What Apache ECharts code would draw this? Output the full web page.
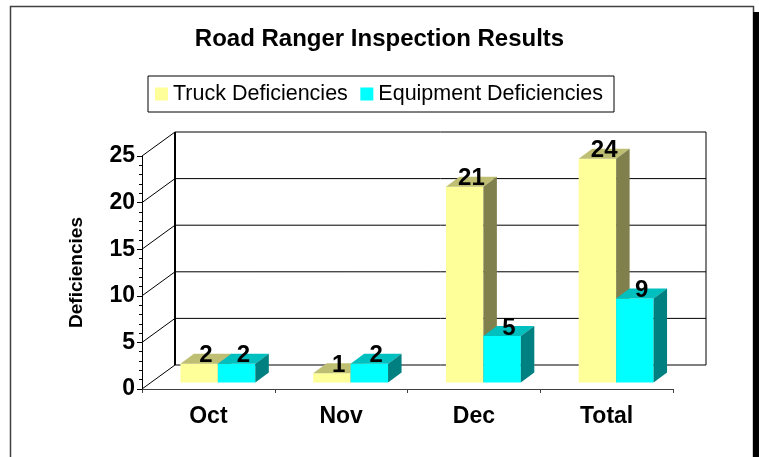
<!DOCTYPE html>
<html>
<head>
<meta charset="utf-8">
<style>
  html, body { margin: 0; padding: 0; background: #fff; }
  #main { width: 759px; height: 457px; }
</style>
<script src="https://cdn.jsdelivr.net/npm/echarts@6/dist/echarts.min.js"></script>
</head>
<body>
<div id="main"></div>
<script>
// chart data
var categories = ['Oct', 'Nov', 'Dec', 'Total'];
var truckValues = [2, 1, 21, 24];
var equipmentValues = [2, 2, 5, 9];
var gridValues = [0, 5, 10, 15, 20, 25];

// 3d look (pixels)
var DEPTH_X = 33, DEPTH_Y = -24;      // front axis plane -> back wall
var BAR_OFF_X = 9.5, BAR_OFF_Y = -6.5; // front axis plane -> bar front
var BAR_DX = 13.5, BAR_DY = -10;       // bar depth
var BAR_RATIO = 0.282;
var FONT = '"Liberation Sans", Arial, sans-serif';

var truckColors = { front: '#FFFF99', top: '#BFBF73', side: '#80804D' };
var equipColors = { front: '#00FFFF', top: '#00BFBF', side: '#008080' };

function barRenderer(left, colors) {
    return function (params, api) {
        var cat = api.value(0), val = api.value(1);
        var base = api.coord([cat, 0]);
        var top = api.coord([cat, val]);
        var bw = api.size([1, 0])[0] * BAR_RATIO;
        var cx = base[0] + BAR_OFF_X;
        var x1 = left ? cx - bw : cx;
        var x2 = x1 + bw;
        var yb = base[1] + BAR_OFF_Y;
        var yt = top[1] + BAR_OFF_Y;
        return {
            type: 'group',
            children: [{
                type: 'polygon',
                shape: { points: [[x1, yb], [x2, yb], [x2, yt], [x1, yt]] },
                style: { fill: colors.front }
            }, {
                type: 'polygon',
                shape: { points: [[x1, yt], [x2, yt], [x2 + BAR_DX, yt + BAR_DY], [x1 + BAR_DX, yt + BAR_DY]] },
                style: { fill: colors.top }
            }, {
                type: 'polygon',
                shape: { points: [[x2, yb], [x2 + BAR_DX, yb + BAR_DY], [x2 + BAR_DX, yt + BAR_DY], [x2, yt]] },
                style: { fill: colors.side }
            }, {
                type: 'text',
                x: (x1 + x2) / 2 + BAR_DX / 2,
                y: yt + 4,
                z2: 100,
                style: {
                    text: String(val),
                    fill: '#000',
                    font: 'bold 24px ' + FONT,
                    align: 'center',
                    verticalAlign: 'bottom'
                }
            }]
        };
    };
}

function wallRenderer(params, api) {
    var cs = params.coordSys;
    var v = api.value(1);
    var y = api.coord([0, v])[1];
    var xl = cs.x, xr = cs.x + cs.width;
    var line = { stroke: '#000', lineWidth: 1 };
    var children = [{
        type: 'line',
        shape: { x1: xl, y1: y, x2: xl + DEPTH_X, y2: y + DEPTH_Y },
        style: line
    }, {
        type: 'line',
        shape: { x1: xl + DEPTH_X, y1: y + DEPTH_Y, x2: xr + DEPTH_X, y2: y + DEPTH_Y },
        style: line
    }];
    if (params.dataIndex === 0) {
        var yTop = api.coord([0, gridValues[gridValues.length - 1]])[1];
        children.push({
            type: 'line',
            shape: { x1: xl + DEPTH_X, y1: y + DEPTH_Y, x2: xl + DEPTH_X, y2: yTop + DEPTH_Y },
            style: { stroke: '#000', lineWidth: 2 }
        }, {
            type: 'line',
            shape: { x1: xr + DEPTH_X, y1: y + DEPTH_Y, x2: xr + DEPTH_X, y2: yTop + DEPTH_Y },
            style: line
        });
    }
    return { type: 'group', children: children };
}

var chart = echarts.init(document.getElementById('main'));
chart.setOption({
    backgroundColor: '#fff',
    animation: false,
    title: {
        text: 'Road Ranger Inspection Results',
        left: 'center',
        top: 22,
        textStyle: { fontFamily: FONT, fontWeight: 'bold', fontSize: 24, color: '#000' }
    },
    legend: {
        left: 148,
        top: 76,
        icon: 'rect',
        itemWidth: 13,
        itemHeight: 13,
        itemGap: 12.5,
        padding: [7, 11, 7, 7],
        borderColor: '#000',
        borderWidth: 1,
        textStyle: { fontFamily: FONT, fontSize: 21.5, color: '#000' },
        data: ['Truck Deficiencies', 'Equipment Deficiencies']
    },
    graphic: [{
        type: 'rect',
        shape: { x: 10.5, y: 6.5, width: 743, height: 500 },
        style: { fill: 'none', stroke: '#404040', lineWidth: 1.5 }
    }, {
        type: 'rect',
        shape: { x: 753, y: 12, width: 6, height: 445 },
        style: { fill: '#000' }
    }],
    grid: { left: 142, right: 86, top: 156, bottom: 68 },
    xAxis: {
        type: 'category',
        data: categories,
        axisLine: { lineStyle: { color: '#404040', width: 1 } },
        axisTick: { show: true, length: 4, lineStyle: { color: '#404040' } },
        axisLabel: { margin: 16, fontFamily: FONT, fontWeight: 'bold', fontSize: 23, color: '#000' }
    },
    yAxis: {
        type: 'value',
        min: 0,
        max: 25,
        interval: 5,
        name: 'Deficiencies',
        nameLocation: 'middle',
        nameGap: 56,
        nameTextStyle: { fontFamily: FONT, fontWeight: 'bold', fontSize: 19, color: '#000' },
        axisLine: { show: true, lineStyle: { color: '#000', width: 1 } },
        axisTick: { show: true, length: 5, lineStyle: { color: '#000' } },
        minorTick: { show: true, splitNumber: 5, length: 3, lineStyle: { color: '#000' } },
        splitLine: { show: false },
        axisLabel: { margin: 7, fontFamily: FONT, fontWeight: 'bold', fontSize: 23, color: '#000' }
    },
    series: [{
        type: 'custom',
        name: 'walls',
        z: 1,
        clip: false,
        silent: true,
        renderItem: wallRenderer,
        data: gridValues.map(function (v) { return [0, v]; })
    }, {
        type: 'custom',
        name: 'Truck Deficiencies',
        z: 2,
        clip: false,
        itemStyle: { color: truckColors.front },
        renderItem: barRenderer(true, truckColors),
        data: categories.map(function (c, i) { return [i, truckValues[i]]; })
    }, {
        type: 'custom',
        name: 'Equipment Deficiencies',
        z: 2,
        clip: false,
        itemStyle: { color: equipColors.front },
        renderItem: barRenderer(false, equipColors),
        data: categories.map(function (c, i) { return [i, equipmentValues[i]]; })
    }]
});
</script>
</body>
</html>
